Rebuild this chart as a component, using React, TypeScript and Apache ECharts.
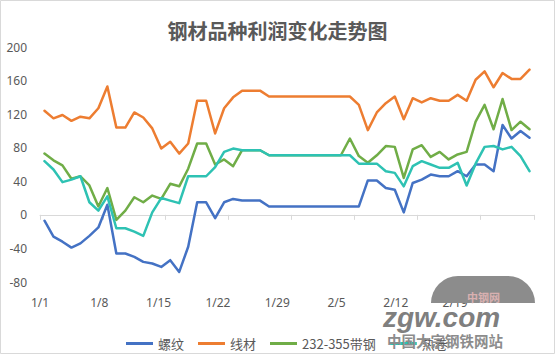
import React, { useEffect, useRef } from 'react';
import * as echarts from 'echarts';

const dates = [
  '1/1','1/2','1/3','1/4','1/5','1/6','1/7','1/8','1/9','1/10','1/11','1/12','1/13','1/14','1/15','1/16',
  '1/17','1/18','1/19','1/20','1/21','1/22','1/23','1/24','1/25','1/26','1/27','1/28','1/29','1/30','1/31',
  '2/1','2/2','2/3','2/4','2/5','2/6','2/7','2/8','2/9','2/10','2/11','2/12','2/13','2/14','2/15','2/16',
  '2/17','2/18','2/19','2/20','2/21','2/22','2/23','2/24',
];

const tickLabels = ['1/1', '1/8', '1/15', '1/22', '1/29', '2/5', '2/12', '2/19'];

const seriesNames = ['螺纹', '线材', '232-355带钢', '热卷'];

const luowen = [
  -7, -26, -32, -39, -34, -25, -15, 12,
  -46, -46, -50, -56, -58, -62, -54, -68,
  -38, 15, 15, -4, 15, 19, 17, 17, 17,
  10, 10, 10, 10, 10, 10, 10, 10, 10, 10, 10,
  41, 41, 32, 30, 3, 38, 42, 48, 46, 46, 52, 46, 60, 60, 52, 107, 91, 100, 92,
];

const xiancai = [
  124, 115, 119, 112, 117, 115, 127, 153,
  104, 104, 122, 116, 103, 79, 87, 73,
  85, 136, 136, 97, 127, 140, 148, 148, 148,
  141, 141, 141, 141, 141, 141, 141, 141, 141, 141,
  131, 101, 122, 133, 141, 114, 139, 134, 139, 136, 136, 143, 136, 161, 171, 152, 169, 162, 162, 173,
];

const daigang = [
  73, 65, 59, 43, 46, 35, 10, 32,
  -6, 5, 21, 15, 23, 19, 37, 34,
  55, 85, 85, 60, 66, 58, 77, 77, 77,
  71, 71, 71, 71, 71, 71, 71, 71, 71, 91,
  70, 62, 71, 82, 81, 44, 78, 83, 69, 75, 66, 72, 75, 111, 131, 102, 138, 101, 111, 102,
];

const rejuan = [
  64, 54, 39, 42, 46, 15, 5, 22,
  -16, -16, -20, -25, 3, 20, 17, 14,
  46, 46, 46, 57, 75, 79, 77, 77, 77,
  71, 71, 71, 71, 71, 71, 71, 71, 71, 71,
  61, 61, 61, 52, 50, 34, 58, 64, 60, 56, 56, 62, 35, 61, 81, 82, 78, 81, 70, 52,
];

const colors = ['#4472C4', '#ED7D31', '#70AD47', '#2EC2B3'];
const seriesData = [luowen, xiancai, daigang, rejuan];

export default function App() {
  const ref = useRef<HTMLDivElement>(null);

  useEffect(() => {
    document.body.style.margin = '0';
    const chart = echarts.init(ref.current as HTMLDivElement, null, { renderer: 'svg' });
    const textColor = '#595959';
    chart.setOption({
      animation: false,
      backgroundColor: '#ffffff',
      title: {
        text: '钢材品种利润变化走势图',
        left: 'center',
        top: 15,
        textStyle: {
          fontFamily: 'Noto Sans CJK SC',
          fontSize: 20,
          fontWeight: 'bold',
          color: textColor,
        },
      },
      legend: {
        data: seriesNames,
        left: 121,
        top: 332,
        icon: 'rect',
        itemWidth: 27,
        itemHeight: 3,
        itemGap: 14,
        textStyle: { fontFamily: 'Noto Sans CJK SC', fontSize: 13, color: textColor },
      },
      grid: { left: 40, right: 21, top: 47, bottom: 72, containLabel: false },
      xAxis: [
        {
          type: 'category',
          data: dates,
          boundaryGap: true,
          axisLine: { onZero: true, lineStyle: { color: '#d9d9d9', width: 1 } },
          axisTick: { show: true, interval: 6, length: 5, lineStyle: { color: '#d9d9d9' } },
          axisLabel: { show: false },
          splitLine: { show: false },
        },
        {
          type: 'value',
          position: 'bottom',
          min: 0,
          max: 8.33,
          interval: 1,
          axisLine: { show: false },
          axisTick: { show: false },
          splitLine: { show: false },
          axisLabel: {
            margin: 14,
            color: textColor,
            fontSize: 12,
            fontFamily: 'Noto Sans',
            showMaxLabel: false,
            formatter: (v: number) =>
              Number.isInteger(v) && tickLabels[v] !== undefined ? tickLabels[v] : '',
          },
        },
      ],
      yAxis: {
        type: 'value',
        min: -80,
        max: 200,
        interval: 40,
        axisLine: { show: false },
        axisTick: { show: false },
        splitLine: { show: false },
        axisLabel: { color: textColor, fontSize: 12, fontFamily: 'Noto Sans', margin: 13 },
      },
      series: seriesNames.map((name, i) => ({
        name,
        type: 'line',
        xAxisIndex: 0,
        data: seriesData[i],
        symbol: 'none',
        color: colors[i],
        lineStyle: { width: 2.5, color: colors[i], cap: 'round', join: 'round' },
      })),
      graphic: {
        elements: [
          {
            type: 'rect',
            shape: { x: 0.5, y: 0.5, width: 554, height: 353 },
            style: { fill: 'transparent', stroke: '#d9d9d9', lineWidth: 1 },
            z: 100,
          },
          {
            type: 'text',
            x: 431,
            y: 276,
            style: {
              text: ' ',
              width: 104,
              height: 27,
              backgroundColor: '#8c8c8c',
              borderRadius: [52, 52, 0, 0],
              fontSize: 12,
            },
            z: 100,
          },
          {
            type: 'text',
            x: 467,
            y: 291,
            style: { text: '中钢网', fontSize: 11, fontWeight: 'bold', fill: '#d8b0b0', fontFamily: 'Noto Sans CJK SC' },
            z: 101,
          },
          {
            type: 'text',
            x: 383,
            y: 303,
            style: {
              text: 'zgw.com',
              fontSize: 28,
              fontWeight: 'bold',
              fontStyle: 'italic',
              fill: '#7f7f7f',
              fontFamily: 'Liberation Sans',
            },
            z: 101,
          },
          {
            type: 'text',
            x: 387,
            y: 333,
            style: {
              text: '中国大宗钢铁网站',
              fontSize: 14.5,
              fontWeight: 'bold',
              fill: '#8c8c8c',
              fontFamily: 'Noto Sans CJK SC',
            },
            z: 101,
          },
        ],
      },
    });
    return () => chart.dispose();
  }, []);

  return <div ref={ref} style={{ width: 555, height: 354 }} />;
}
